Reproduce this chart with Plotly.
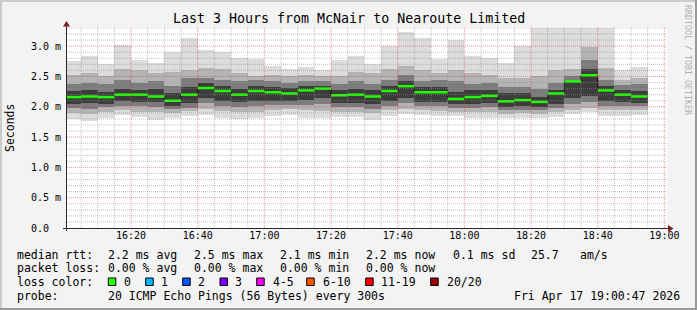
import plotly.graph_objects as go
import pandas as pd

# ---------------- data ----------------
bar_start = pd.date_range("2026-04-17 16:00:00", periods=35, freq="5min")
range_start = "2026-04-17 16:00:47"
range_end = "2026-04-17 19:00:47"

median = [2.16, 2.17, 2.16, 2.20, 2.20, 2.17, 2.10, 2.20, 2.31, 2.26,
          2.20, 2.26, 2.24, 2.22, 2.27, 2.30, 2.19, 2.20, 2.17, 2.26,
          2.34, 2.24, 2.24, 2.13, 2.16, 2.18, 2.09, 2.11, 2.08, 2.22,
          2.42, 2.52, 2.27, 2.20, 2.17]
ping_max = [2.75, 2.84, 2.70, 3.02, 2.77, 2.72, 2.91, 3.13, 2.93, 2.91,
            2.81, 2.79, 2.67, 2.63, 2.65, 2.61, 2.77, 2.84, 2.71, 3.00,
            3.23, 3.13, 2.79, 3.11, 2.84, 2.81, 2.72, 3.01, 3.50, 3.50,
            3.50, 3.50, 3.50, 2.60, 2.65]
ping_min = [1.80, 1.77, 1.82, 1.86, 1.83, 1.79, 1.82, 1.85, 1.87, 1.82,
            1.80, 1.82, 1.85, 1.87, 1.82, 1.82, 1.83, 1.83, 1.79, 1.85,
            1.88, 1.86, 1.85, 1.85, 1.82, 1.82, 1.82, 1.81, 1.82, 1.83,
            1.88, 1.92, 1.85, 1.85, 1.87]
hi2 = [2.53, 2.55, 2.50, 2.62, 2.60, 2.56, 2.58, 2.60, 2.64, 2.62,
       2.55, 2.50, 2.52, 2.50, 2.52, 2.50, 2.50, 2.58, 2.55, 2.62,
       2.68, 2.60, 2.56, 2.60, 2.55, 2.52, 2.48, 2.48, 2.50, 2.60,
       2.62, 2.98, 2.64, 2.45, 2.48]
hi3 = [2.38, 2.40, 2.37, 2.45, 2.40, 2.43, 2.35, 2.48, 2.48, 2.45,
       2.42, 2.44, 2.42, 2.40, 2.43, 2.42, 2.38, 2.42, 2.38, 2.45,
       2.52, 2.42, 2.45, 2.42, 2.38, 2.40, 2.33, 2.33, 2.30, 2.40,
       2.50, 2.78, 2.45, 2.36, 2.37]
hi4 = [2.26, 2.27, 2.25, 2.30, 2.28, 2.30, 2.22, 2.33, 2.40, 2.35,
       2.30, 2.34, 2.32, 2.31, 2.34, 2.35, 2.28, 2.30, 2.27, 2.34,
       2.42, 2.32, 2.33, 2.25, 2.27, 2.28, 2.22, 2.22, 2.16, 2.28,
       2.45, 2.62, 2.34, 2.28, 2.26]
lo4 = [2.05, 2.06, 2.05, 2.10, 2.08, 2.08, 2.02, 2.06, 2.14, 2.10,
       2.08, 2.10, 2.10, 2.10, 2.12, 2.14, 2.06, 2.07, 2.04, 2.10,
       2.15, 2.08, 2.08, 2.04, 2.05, 2.06, 2.00, 2.01, 2.00, 2.04,
       2.14, 2.18, 2.10, 2.08, 2.07]
lo3 = [1.98, 1.97, 1.99, 2.02, 2.01, 1.99, 1.96, 1.98, 2.06, 2.02,
       1.99, 2.02, 2.03, 2.03, 2.03, 2.04, 1.99, 2.00, 1.97, 2.02,
       2.06, 2.01, 2.01, 1.98, 1.98, 1.99, 1.94, 1.95, 1.94, 1.98,
       2.04, 2.08, 2.02, 2.01, 2.01]
lo2 = [1.90, 1.88, 1.91, 1.94, 1.92, 1.91, 1.89, 1.93, 1.96, 1.93,
       1.91, 1.92, 1.95, 1.96, 1.94, 1.93, 1.92, 1.92, 1.89, 1.94,
       1.97, 1.94, 1.93, 1.92, 1.91, 1.91, 1.88, 1.89, 1.88, 1.91,
       1.95, 1.98, 1.94, 1.94, 1.95]

y_tick_vals = [0.0, 0.5, 1.0, 1.5, 2.0, 2.5, 3.0]
y_tick_text = ["0.0\u00a0\u00a0", "0.5 m", "1.0 m", "1.5 m", "2.0 m", "2.5 m", "3.0 m"]
x_tick_vals = pd.date_range("2026-04-17 16:20:00", "2026-04-17 19:00:00", freq="20min")

title = "Last 3 Hours from McNair to Nearoute Limited"
loss_labels = ["0", "1", "2", "3", "4-5", "6-10", "11-19", "20/20"]
loss_colors = ["#26ff00", "#00b8ff", "#0059ff", "#7e00ff", "#ff00ff", "#ff5500", "#ff0000", "#a10000"]

# ---------------- geometry (pixels) ----------------
W, H = 697, 310
L, R, T, B = 67, 30, 28, 82
PW, PH = W - L - R, H - T - B
MONO = "DejaVu Sans Mono"


def fx(xp):
    return (xp - L) / PW


def fy(yp):
    return (H - B - yp) / PH


step = pd.Timedelta(minutes=5)
centers = bar_start + step / 2
bar_end = bar_start + step

fig = go.Figure()

bands = [
    (ping_min, ping_max, "#dcdcdc"),
    (lo2, hi2, "#b4b4b4"),
    (lo3, hi3, "#7c7c7c"),
    (lo4, hi4, "#3c3c3c"),
]
for lo, hi, col in bands:
    fig.add_trace(go.Bar(
        x=centers, y=[h - l for h, l in zip(hi, lo)], base=lo,
        width=300000, marker=dict(color=col, line=dict(width=0)),
        showlegend=False, hoverinfo="skip"))

# step connectors (black) under the green median
fig.add_trace(go.Scatter(
    x=list(bar_start) + [bar_end[-1]], y=median + [median[-1]],
    mode="lines", line=dict(color="#000000", width=1, shape="hv"),
    showlegend=False, hoverinfo="skip"))

seg_x, seg_y = [], []
for s, e, m in zip(bar_start, bar_end, median):
    seg_x += [s, e, None]
    seg_y += [m, m, None]
fig.add_trace(go.Scatter(x=seg_x, y=seg_y, mode="lines",
                         line=dict(color="#20ff00", width=2.5),
                         showlegend=False, hoverinfo="skip"))

shapes = []
# grid (drawn above the smoke, like rrdtool)
minor_col = "rgba(143,143,143,0.55)"
major_col = "rgba(222,48,48,0.5)"
for k in range(1, 34):
    yv = k / 10
    major = (k % 5 == 0)
    shapes.append(dict(type="line", xref="x", yref="y", x0=range_start, x1=range_end,
                       y0=yv, y1=yv, layer="above",
                       line=dict(color=major_col if major else minor_col, width=1, dash="1px,1px")))
for t in pd.date_range("2026-04-17 16:05:00", "2026-04-17 19:00:00", freq="5min"):
    major = (t.minute % 20 == 0)
    shapes.append(dict(type="line", xref="x", yref="paper", x0=t, x1=t,
                       y0=0, y1=fy(26), layer="above",
                       line=dict(color=major_col if major else minor_col, width=1, dash="1px,1px")))

# axes with arrows
axis_col = "#2a2a2a"
arrow_col = "#7f1f1f"
shapes.append(dict(type="line", xref="paper", yref="paper", x0=fx(63), x1=fx(669),
                   y0=fy(228.5), y1=fy(228.5), line=dict(color=axis_col, width=1), layer="above"))
shapes.append(dict(type="line", xref="paper", yref="paper", x0=fx(66.5), x1=fx(66.5),
                   y0=fy(231), y1=fy(25), line=dict(color=axis_col, width=1), layer="above"))
shapes.append(dict(type="path", xref="paper", yref="paper", layer="above",
                   path=f"M {fx(668)},{fy(225)} L {fx(673.5)},{fy(228.5)} L {fx(668)},{fy(232)} Z",
                   fillcolor=arrow_col, line=dict(color=arrow_col, width=0)))
shapes.append(dict(type="path", xref="paper", yref="paper", layer="above",
                   path=f"M {fx(63)},{fy(26.5)} L {fx(66.5)},{fy(21)} L {fx(70)},{fy(26.5)} Z",
                   fillcolor=arrow_col, line=dict(color=arrow_col, width=0)))

# image frame (3D shading)
shapes.append(dict(type="rect", xref="paper", yref="paper", x0=fx(0), x1=fx(W), y0=fy(0), y1=fy(2),
                   fillcolor="#cbcbcb", line=dict(width=0), layer="below"))
shapes.append(dict(type="rect", xref="paper", yref="paper", x0=fx(0), x1=fx(2), y0=fy(0), y1=fy(H),
                   fillcolor="#cbcbcb", line=dict(width=0), layer="below"))
shapes.append(dict(type="rect", xref="paper", yref="paper", x0=fx(0), x1=fx(W), y0=fy(H - 2), y1=fy(H),
                   fillcolor="#999999", line=dict(width=0), layer="below"))
shapes.append(dict(type="rect", xref="paper", yref="paper", x0=fx(W - 2), x1=fx(W), y0=fy(0), y1=fy(H),
                   fillcolor="#999999", line=dict(width=0), layer="below"))

annotations = []


def txt(x, y, s, size=11.5, color="#000000", anchor="left", angle=0):
    annotations.append(dict(x=fx(x), y=fy(y), xref="paper", yref="paper", text=s,
                            showarrow=False, xanchor=anchor, yanchor="middle",
                            textangle=angle, borderpad=0,
                            font=dict(family=MONO, size=size, color=color)))


txt(348.5, 18.5, title, size=13.3, anchor="center")
txt(10, 128, "Seconds", size=11.5, anchor="center", angle=-90)
txt(688, 60, "RRDTOOL / TOBI OETIKER", size=8.3, color="#b0b0b0", anchor="center", angle=90)

row1 = 254.5
row2 = 268
row3 = 282
row4 = 296
txt(16, row1, "median rtt:")
for xp, s in [(107.3, "2.2 ms avg"), (193.3, "2.5 ms max"), (279.3, "2.1 ms min"),
              (365, "2.2 ms now"), (451.7, "0.1 ms sd"), (530, "25.7"), (579.3, "am/s")]:
    txt(xp, row1, s)
txt(16, row2, "packet loss:")
for xp, s in [(107.3, "0.00 % avg"), (193.3, "0.00 % max"), (279.3, "0.00 % min"),
              (365, "0.00 % now")]:
    txt(xp, row2, s)
txt(16, row3, "loss color:")
sq_x = [108.3, 145.7, 182.7, 220, 256.7, 306.7, 365.7, 430.7]
lab_x = [122.7, 160, 197.3, 234.3, 271.7, 321.7, 380, 445.7]
for sx, lx, lab, col in zip(sq_x, lab_x, loss_labels, loss_colors):
    shapes.append(dict(type="rect", xref="paper", yref="paper",
                       x0=fx(sx), x1=fx(sx + 7.5), y0=fy(278), y1=fy(285.5),
                       fillcolor=col, line=dict(color="#000000", width=1)))
    txt(lx, row3, lab)
txt(16, row4, "probe:")
txt(107.3, row4, "20 ICMP Echo Pings (56 Bytes) every 300s")
txt(513.3, row4, "Fri Apr 17 19:00:47 2026")

fig.update_layout(
    width=W, height=H, autosize=False,
    margin=dict(l=L, r=R, t=T, b=B, pad=0),
    paper_bgcolor="#f3f3f3", plot_bgcolor="#ffffff",
    barmode="overlay", bargap=0, showlegend=False,
    shapes=shapes, annotations=annotations,
    xaxis=dict(type="date", range=[range_start, range_end], showgrid=False, zeroline=False,
               showline=False, tickvals=list(x_tick_vals), tickformat="%H:%M", ticks="",
               tickfont=dict(family=MONO, size=10, color="#000000"), fixedrange=True),
    yaxis=dict(range=[0, 3.3], showgrid=False, zeroline=False, showline=False,
               tickvals=y_tick_vals, ticktext=y_tick_text, ticks="",
               ticklabelstandoff=5,
               tickfont=dict(family=MONO, size=10, color="#000000"), fixedrange=True),
)

fig.write_html("out.html")
